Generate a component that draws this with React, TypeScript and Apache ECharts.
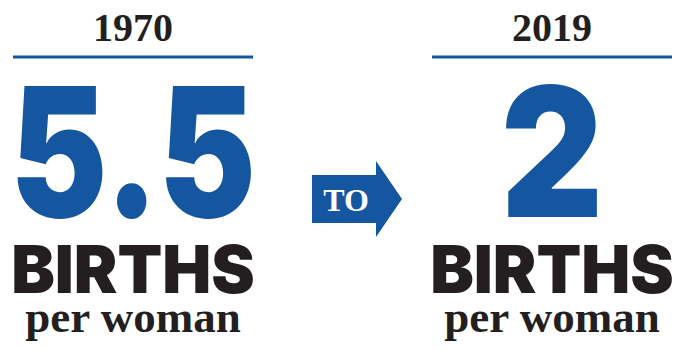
import React, { useEffect, useRef } from "react";
import * as echarts from "echarts";

const years = ["1970", "2019"];
const values = ["5.5", "2"];
const unitLabels = ["BIRTHS", "BIRTHS"];
const subLabels = ["per woman", "per woman"];
const connector = "TO";

const BLUE = "#1556a0";
const DARK = "#231f20";
const SANS = "Inter";
const SERIF = "'Liberation Serif', 'Times New Roman', serif";

export default function App() {
  const ref = useRef<HTMLDivElement>(null);
  useEffect(() => {
    document.body.style.margin = "0";
    const chart = echarts.init(ref.current!, null, { renderer: "svg" });
    const centers = [133, 552];
    const valueScale = [0.81, 0.88];
    const lineX = [[13, 253], [432, 672]];
    const elements: any[] = [];
    const txt = (x: number, y: number, text: string, font: string, fill: string, scaleX = 1) => ({
      type: "text",
      x,
      y,
      scaleX,
      style: {
        text,
        font,
        fill,
        textAlign: "center",
        textVerticalAlign: "middle",
        align: "center",
        verticalAlign: "middle",
      },
    });
    years.forEach((yr, i) => {
      const cx = centers[i];
      elements.push(txt(cx, 27, yr, `bold 40px ${SERIF}`, DARK));
      elements.push({
        type: "line",
        shape: { x1: lineX[i][0], y1: 57, x2: lineX[i][1], y2: 57 },
        style: { stroke: BLUE, lineWidth: 3 },
      });
      elements.push(txt(cx, 152, values[i], `900 180px ${SANS}`, BLUE, valueScale[i]));
      elements.push(txt(cx, 269, unitLabels[i], `900 66px ${SANS}`, DARK, 0.99));
      elements.push(txt(cx, 317, subLabels[i], `bold 45px ${SERIF}`, DARK));
    });
    elements.push({
      type: "polygon",
      shape: {
        points: [
          [312, 175],
          [376, 175],
          [376, 161],
          [402, 199],
          [376, 237],
          [376, 223],
          [312, 223],
        ],
      },
      style: { fill: BLUE },
    });
    elements.push(txt(346, 200, connector, `bold 32px ${SERIF}`, "#ffffff"));
    chart.setOption({ animation: false, graphic: { elements } });
    return () => chart.dispose();
  }, []);
  return <div ref={ref} style={{ width: 679, height: 350, background: "#fff" }} />;
}
